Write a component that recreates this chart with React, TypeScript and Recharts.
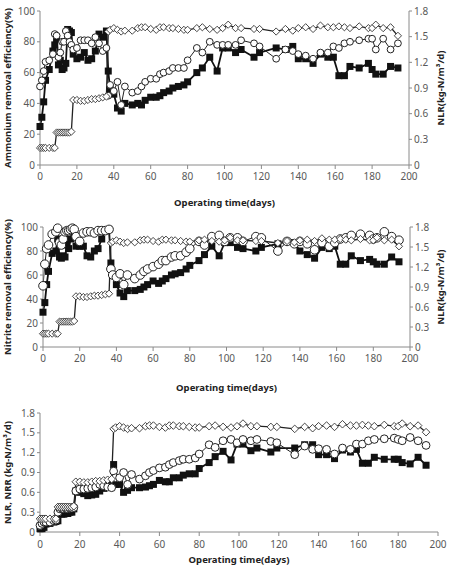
import { LineChart, Line, XAxis, YAxis } from 'recharts';

// operating days sampled
const days = [0, 1, 2, 3, 5, 7, 8, 9, 10, 11, 12, 13, 14, 15, 16, 17, 18, 20, 22, 24, 26, 28, 30, 32, 34, 36, 37, 38, 40, 42, 44, 46, 50, 53, 55, 57, 60, 63, 65, 67, 70, 72, 75, 78, 80, 85, 88, 92, 96, 99, 102, 106, 109, 116, 119, 128, 133, 137, 140, 144, 148, 152, 156, 159, 162, 165, 168, 173, 178, 180, 182, 186, 190, 194];

// NLR (kg-N/m3/d), open diamonds
const nlr = [0.2, 0.2, 0.2, 0.2, 0.2, 0.2, 0.2, 0.38, 0.38, 0.38, 0.38, 0.38, 0.38, 0.38, 0.38, 0.39, 0.76, 0.76, 0.75, 0.75, 0.76, 0.77, 0.77, 0.78, 0.79, 0.8, 1.56, 1.58, 1.6, 1.58, 1.56, 1.57, 1.57, 1.6, 1.61, 1.61, 1.59, 1.58, 1.61, 1.61, 1.6, 1.6, 1.59, 1.58, 1.58, 1.6, 1.61, 1.59, 1.58, 1.6, 1.64, 1.6, 1.6, 1.59, 1.59, 1.56, 1.59, 1.57, 1.6, 1.61, 1.59, 1.63, 1.61, 1.61, 1.62, 1.61, 1.6, 1.62, 1.6, 1.6, 1.64, 1.6, 1.61, 1.51];

// ammonium removal efficiency (%)
const ammoniumSquare = [25, 31, 41, 55, 62, 74, 78, 82, 65, 68, 62, 63, 66, 88, 87, 86, 72, 69, 70, 73, 68, 69, 74, 85, 83, 87, 61, 49, 46, 37, 35, 40, 39, 40, 39, 42, 44, 44, 45, 47, 48, 50, 51, 52, 54, 60, 63, 70, 61, 76, 76, 73, 75, 70, 73, 76, 75, 77, 69, 69, 66, 72, 70, 70, 58, 58, 64, 63, 66, 62, 59, 59, 64, 63];
const ammoniumCircle = [51, 55, 61, 67, 68, 72, 85, 84, 70, 73, 80, 80, 87, 84, 80, 78, 75, 76, 81, 81, 81, 79, 83, 79, 74, 76, 45, 52, 48, 54, 39, 51, 47, 48, 51, 54, 56, 56, 59, 60, 61, 63, 63, 63, 68, 76, 73, 80, 78, 78, 78, 78, 81, 79, 77, 69, 75, 74, 72, 71, 69, 73, 73, 77, 76, 79, 80, 81, 82, 82, 75, 82, 75, 79];

// nitrite removal efficiency (%)
const nitriteSquare = [29, 37, 52, 63, 78, 80, 90, 75, 74, 76, 75, 85, 82, 90, 97, 96, 84, 84, 84, 76, 75, 80, 82, 90, 97, 98, 70, 60, 52, 45, 42, 47, 47, 48, 50, 52, 55, 53, 55, 57, 60, 61, 62, 65, 68, 72, 77, 84, 76, 87, 87, 83, 82, 80, 83, 86, 88, 87, 80, 77, 74, 83, 82, 84, 69, 69, 76, 72, 73, 71, 69, 69, 75, 71];
const nitriteCircle = [51, 69, 82, 85, 94, 96, 99, 87, 85, 90, 96, 97, 97, 98, 99, 98, 92, 88, 95, 96, 96, 95, 97, 97, 97, 98, 65, 60, 58, 61, 52, 60, 57, 60, 63, 65, 67, 69, 72, 72, 75, 76, 76, 79, 82, 88, 85, 92, 93, 88, 91, 91, 88, 92, 91, 80, 88, 86, 88, 86, 81, 87, 84, 87, 90, 91, 93, 94, 93, 90, 91, 96, 92, 89];

// NRR (kg-N/m3/d)
const nrrSquare = [0.05, 0.05, 0.07, 0.12, 0.13, 0.15, 0.16, 0.17, 0.28, 0.27, 0.27, 0.28, 0.28, 0.3, 0.3, 0.35, 0.62, 0.6, 0.58, 0.55, 0.56, 0.57, 0.62, 0.66, 0.7, 0.72, 1.02, 0.72, 0.72, 0.6, 0.63, 0.67, 0.67, 0.68, 0.7, 0.72, 0.78, 0.76, 0.76, 0.82, 0.82, 0.86, 0.88, 0.88, 0.96, 1.05, 1.14, 1.22, 1.09, 1.33, 1.33, 1.23, 1.27, 1.21, 1.27, 1.27, 1.32, 1.32, 1.17, 1.17, 1.11, 1.24, 1.21, 1.25, 1.04, 1.04, 1.13, 1.1, 1.1, 1.1, 1.05, 1.03, 1.13, 1.01];
const nrrCircle = [0.1, 0.13, 0.15, 0.15, 0.15, 0.17, 0.18, 0.3, 0.35, 0.36, 0.35, 0.36, 0.35, 0.36, 0.36, 0.37, 0.62, 0.65, 0.65, 0.66, 0.67, 0.68, 0.72, 0.7, 0.68, 0.67, 0.92, 0.82, 0.82, 0.9, 0.72, 0.87, 0.8, 0.85, 0.9, 0.93, 0.97, 0.98, 1.02, 1.05, 1.08, 1.1, 1.1, 1.12, 1.18, 1.32, 1.28, 1.38, 1.4, 1.35, 1.4, 1.38, 1.4, 1.37, 1.35, 1.17, 1.3, 1.25, 1.26, 1.25, 1.18, 1.27, 1.25, 1.33, 1.33, 1.38, 1.4, 1.41, 1.42, 1.4, 1.38, 1.43, 1.38, 1.31];

const dayTicks = [0, 20, 40, 60, 80, 100, 120, 140, 160, 180, 200];
const pctTicks = [0, 20, 40, 60, 80, 100];
const rateTicks = [0, 0.3, 0.6, 0.9, 1.2, 1.5, 1.8];

const rows = days.map((day, i) => ({
    day,
    nlr: nlr[i],
    ammSq: ammoniumSquare[i],
    ammCi: ammoniumCircle[i],
    nitSq: nitriteSquare[i],
    nitCi: nitriteCircle[i],
    nrrSq: nrrSquare[i],
    nrrCi: nrrCircle[i],
}));

const FONT = '"Noto Sans", "DejaVu Sans", sans-serif';
const AXIS = '#8a8a8a';
const tick = { fontSize: 10, fill: '#595959', fontFamily: FONT };
const titleStyle = { fontSize: 9.5, fontWeight: 700, fill: '#222', fontFamily: FONT, textAnchor: 'middle' as const };

const square = (size: number) => (p: any) => (
    <rect key={`sq-${p.index}`} x={p.cx - size / 2} y={p.cy - size / 2} width={size} height={size} fill="#111" />
);
const circle = (r: number) => (p: any) => (
    <circle key={`ci-${p.index}`} cx={p.cx} cy={p.cy} r={r} fill="#fff" stroke="#222" strokeWidth={1} />
);
const diamond = (w: number) => (p: any) => (
    <path
        key={`di-${p.index}`}
        d={`M${p.cx},${p.cy - w}L${p.cx + w},${p.cy}L${p.cx},${p.cy + w}L${p.cx - w},${p.cy}Z`}
        fill="#fff"
        stroke="#333"
        strokeWidth={0.9}
    />
);

function EfficiencyPanel({ top, height, marginTop, xAxisHeight, leftWidth, rightWidth, sqKey, ciKey, yTitle, circleR }: any) {
    return (
        <div style={{ position: 'absolute', left: 0, top }}>
            <LineChart width={451} height={height} data={rows} margin={{ top: marginTop, right: 0, bottom: 0, left: 0 }}>
                <XAxis
                    dataKey="day" type="number" domain={[0, 200]} ticks={dayTicks}
                    height={xAxisHeight} stroke={AXIS} tick={tick} tickSize={4} tickMargin={4}
                    label={{ value: 'Operating time(days)', position: 'insideBottom', offset: 4, style: titleStyle }}
                />
                <YAxis
                    yAxisId="left" domain={[0, 100]} ticks={pctTicks} width={leftWidth}
                    stroke={AXIS} tick={tick} tickSize={3} tickMargin={2}
                    label={{ value: yTitle, angle: -90, position: 'insideLeft', offset: 8, style: titleStyle }}
                />
                <YAxis
                    yAxisId="right" orientation="right" domain={[0, 1.8]} ticks={rateTicks} width={rightWidth}
                    stroke={AXIS} tick={tick} tickSize={3} tickMargin={2}
                    label={{ value: 'NLR(kg-N/m³/d)', angle: -90, position: 'insideRight', offset: 10, style: titleStyle }}
                />
                <Line yAxisId="left" dataKey={sqKey} stroke="#111" strokeWidth={1.8} dot={square(7)} isAnimationActive={false} />
                <Line yAxisId="left" dataKey={ciKey} stroke="#222" strokeWidth={1} dot={circle(circleR)} isAnimationActive={false} />
                <Line yAxisId="right" dataKey="nlr" stroke="#222" strokeWidth={1.3} dot={diamond(3.6)} isAnimationActive={false} />
            </LineChart>
        </div>
    );
}

export default function App() {
    return (
        <div style={{ position: 'absolute', left: 0, top: 0, width: 451, height: 567, background: '#fff' }}>
            <EfficiencyPanel top={0} height={210} marginTop={11} xAxisHeight={45} leftWidth={40} rightWidth={42}
                sqKey="ammSq" ciKey="ammCi" yTitle="Ammonium removal efficiency(%)" circleR={3.4} />
            <EfficiencyPanel top={210} height={185} marginTop={17} xAxisHeight={48} leftWidth={43} rightWidth={41}
                sqKey="nitSq" ciKey="nitCi" yTitle="Nitrite removal efficiency(%)" circleR={4.3} />

            {/* NLR and NRR */}
            <div style={{ position: 'absolute', left: 0, top: 395 }}>
                <LineChart width={451} height={172} data={rows} margin={{ top: 18, right: 13, bottom: 0, left: 0 }}>
                    <XAxis
                        dataKey="day" type="number" domain={[0, 200]} ticks={dayTicks}
                        height={35} stroke={AXIS} tick={tick} tickSize={4} tickMargin={5}
                        label={{ value: 'Operating time(days)', position: 'insideBottom', offset: 4, style: titleStyle }}
                    />
                    <YAxis
                        domain={[0, 1.8]} ticks={rateTicks} width={40}
                        stroke={AXIS} tick={tick} tickSize={3} tickMargin={2}
                        label={{ value: 'NLR, NRR (kg-N/m³/d)', angle: -90, position: 'insideLeft', offset: 8, style: titleStyle }}
                    />
                    <Line dataKey="nrrSq" stroke="#111" strokeWidth={1.8} dot={square(7)} isAnimationActive={false} />
                    <Line dataKey="nrrCi" stroke="#222" strokeWidth={1} dot={circle(3.9)} isAnimationActive={false} />
                    <Line dataKey="nlr" stroke="#222" strokeWidth={1.3} dot={diamond(3.8)} isAnimationActive={false} />
                </LineChart>
            </div>
        </div>
    );
}
